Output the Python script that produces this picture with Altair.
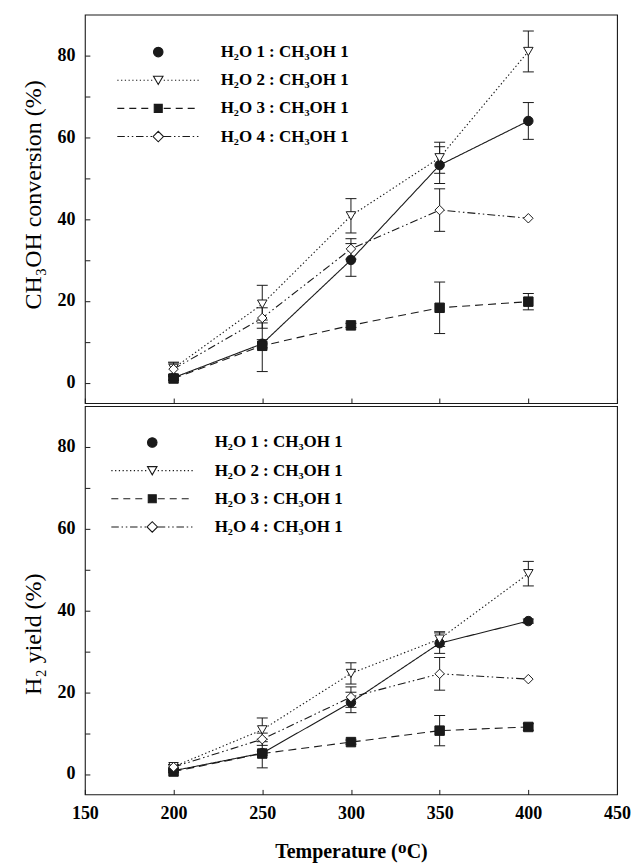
import altair as alt
import pandas as pd

# ---------------- data ----------------
temps = [200, 250, 300, 350, 400]
series_names = ["H₂O 1 : CH₃OH 1", "H₂O 2 : CH₃OH 1", "H₂O 3 : CH₃OH 1", "H₂O 4 : CH₃OH 1"]

conv_s1 = [1.2, 9.5, 30.0, 53.2, 64.0]
conv_s1_err = [0.5, 1.0, 4.0, 4.5, 4.5]
conv_s2 = [3.5, 19.2, 40.8, 55.0, 81.0]
conv_s2_err = [1.5, 4.6, 4.2, 3.8, 5.0]
conv_s3 = [1.0, 9.0, 14.0, 18.3, 19.8]
conv_s3_err = [0.5, 6.3, 0.5, 6.3, 2.0]
conv_s4 = [3.3, 15.8, 32.7, 42.2, 40.2]
conv_s4_err = [1.5, 2.5, 2.5, 5.2, 0.0]

yield_s1 = [0.8, 5.1, 17.5, 32.0, 37.4]
yield_s1_err = [0.3, 0.5, 2.5, 2.5, 0.5]
yield_s2 = [1.8, 10.8, 24.6, 33.0, 49.0]
yield_s2_err = [0.5, 2.9, 2.6, 1.8, 3.0]
yield_s3 = [0.6, 5.0, 7.8, 10.6, 11.5]
yield_s3_err = [0.3, 3.5, 0.5, 3.7, 0.8]
yield_s4 = [1.7, 8.5, 18.8, 24.5, 23.2]
yield_s4_err = [0.5, 1.5, 2.5, 4.0, 0.0]

x_ticks = [150, 200, 250, 300, 350, 400, 450]
y_ticks = [0, 10, 20, 30, 40, 50, 60, 70, 80]


def build(vals, errs):
    rows = []
    for name, v, e in zip(series_names, vals, errs):
        for t, vv, ee in zip(temps, v, e):
            rows.append({"temp": t, "series": name, "value": vv, "err": ee})
    return pd.DataFrame(rows)


conv_df = build([conv_s1, conv_s2, conv_s3, conv_s4],
                [conv_s1_err, conv_s2_err, conv_s3_err, conv_s4_err])
yield_df = build([yield_s1, yield_s2, yield_s3, yield_s4],
                 [yield_s1_err, yield_s2_err, yield_s3_err, yield_s4_err])

# ---------------- styles ----------------
SERIF = "Liberation Serif"
INK = "#1a1a1a"
dashes = [[1, 0], [1.4, 2.4], [8, 5], [8, 3, 1.5, 3, 1.5, 3]]
shapes = ["circle", "triangle-down", "square", "diamond"]
fills = [INK, "white", INK, "white"]
strokes = [INK, INK, INK, INK]


def seg_path(pattern, a, b):
    parts = []
    x = a
    i = 0
    while x < b - 1e-6:
        on = pattern[i % len(pattern)]
        off = pattern[(i + 1) % len(pattern)]
        x2 = min(x + on, b)
        parts.append(f"M{x:.2f},0H{x2:.2f}")
        x = x2 + off
        i += 2
    return "".join(parts)


def legend_line(pattern, gap=1.1, ext=8.2):
    return seg_path(pattern, -ext, -gap) + seg_path(pattern, gap, ext)


circle_p = "M-0.95,0A0.95,0.95 0 1,1 0.95,0A0.95,0.95 0 1,1 -0.95,0Z"
tri_p = "M-0.95,-0.8L0.95,-0.8L0,0.85Z"
sq_p = "M-0.8,-0.8H0.8V0.8H-0.8Z"
dia_p = "M-1.05,0L0,-1.05L1.05,0L0,1.05Z"
legend_shapes = [
    circle_p,
    legend_line([0.25, 0.5]) + tri_p,
    legend_line([1.4, 1.0]) + sq_p,
    legend_line([1.5, 0.55, 0.3, 0.55, 0.3, 0.55]) + dia_p,
]


def panel(df, ytitle, bottom, leg_x, leg_y, title_y):
    if bottom:
        x_axis = alt.Axis(values=x_ticks, title="Temperature (ᴼC)", format="d",
                          labelPadding=10, titlePadding=19, labelFlush=False)
    else:
        x_axis = alt.Axis(values=x_ticks, labels=False, title=None)
    y_axis = alt.Axis(values=y_ticks, title=ytitle,
                      labelExpr="datum.value % 20 === 0 ? datum.label : ''",
                      labelPadding=10, titlePadding=11, titleY=title_y)
    xs = alt.Scale(domain=[150, 450], nice=False)
    ys = alt.Scale(domain=[-5, 90], nice=False)

    def X():
        return alt.X("temp:Q", scale=xs, axis=x_axis)

    def Y(field):
        return alt.Y(field, scale=ys, axis=y_axis, title=ytitle)

    base = alt.Chart(df)
    lines = base.mark_line(color=INK, strokeWidth=1.1).encode(
        x=X(), y=Y("value:Q"),
        strokeDash=alt.StrokeDash("series:N", scale=alt.Scale(domain=series_names, range=dashes), legend=None),
    )
    eb = base.transform_filter("datum.err > 0").transform_calculate(
        lo="datum.value - datum.err", hi="datum.value + datum.err")
    rules = eb.mark_rule(color=INK, strokeWidth=1).encode(x=X(), y=Y("lo:Q"), y2="hi:Q")
    cap_lo = eb.mark_tick(color=INK, orient="horizontal", size=11, thickness=1, opacity=1).encode(x=X(), y=Y("lo:Q"))
    cap_hi = eb.mark_tick(color=INK, orient="horizontal", size=11, thickness=1, opacity=1).encode(x=X(), y=Y("hi:Q"))
    points = base.mark_point(filled=True, stroke=INK, strokeWidth=1, opacity=1, size=90).encode(
        x=X(), y=Y("value:Q"),
        shape=alt.Shape("series:N", scale=alt.Scale(domain=series_names, range=shapes), legend=None),
        fill=alt.Fill("series:N", scale=alt.Scale(domain=series_names, range=fills), legend=None),
    )
    leg = alt.Legend(
        title=None, orient="none", legendX=leg_x, legendY=leg_y,
        labelFont=SERIF, labelFontSize=17, labelFontWeight="bold", labelColor="black",
        labelLimit=0, symbolSize=100, symbolStrokeColor=INK, symbolStrokeWidth=1.1,
        symbolOpacity=1, rowPadding=10.2, symbolOffset=65, labelOffset=54, padding=0,
    )
    legend_layer = base.mark_point(filled=True, opacity=0, strokeWidth=1.1).encode(
        x=X(), y=Y("value:Q"),
        shape=alt.Shape("series:N", scale=alt.Scale(domain=series_names, range=legend_shapes), legend=leg),
        fill=alt.Fill("series:N", scale=alt.Scale(domain=series_names, range=fills), legend=leg),
        stroke=alt.Stroke("series:N", scale=alt.Scale(domain=series_names, range=strokes), legend=leg),
    )
    return alt.layer(lines, rules, cap_lo, cap_hi, points, legend_layer).resolve_scale(
        shape="independent", fill="independent", stroke="independent"
    ).properties(width=533, height=389)


top = panel(conv_df, "CH₃OH conversion (%)", False, 0, 29, 180)
bottom = panel(yield_df, "H₂ yield (%)", True, -6, 28, 228)

chart = alt.vconcat(top, bottom, spacing=0).properties(
    padding={"top": 13, "left": 21, "right": 0, "bottom": 0}
).configure_view(stroke=INK, strokeWidth=1.1).configure_axis(
    labelFont=SERIF, labelFontSize=18, labelFontWeight="bold", labelColor="black",
    titleFont=SERIF, titleFontSize=24, titleFontWeight="normal", titleColor="black",
    tickSize=5, offset=-5, domain=False, grid=False, tickColor=INK, tickWidth=1,
).configure_axisX(titleFontWeight="bold", titleFontSize=20)

chart.save("out.html", embed_options={"renderer": "svg", "actions": False})
